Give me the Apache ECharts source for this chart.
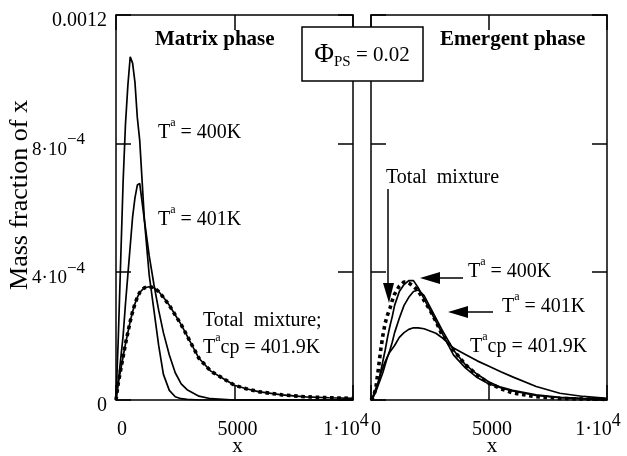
<!DOCTYPE html>
<html>
<head>
<meta charset="utf-8">
<script src="https://cdn.jsdelivr.net/npm/echarts@6/dist/echarts.min.js"></script>
<style>
  html, body { margin: 0; padding: 0; background: #fff; }
  #chart { width: 627px; height: 456px; }
</style>
</head>
<body>
<div id="chart"></div>
<script>
// Chain length x (sampling grid shared by all curves)
const xs = [0, 100, 200, 300, 400, 500, 600, 700, 800, 900, 1000, 1200, 1400, 1600, 1800,
            2000, 2250, 2500, 2750, 3000, 3500, 4000, 4500, 5000, 5500, 6000, 7000, 8000, 9000, 10000];

// Mass fraction of x, in units of 1e-4
// Matrix phase
const matrix400 = [0, 2.0, 4.4, 6.8, 8.6, 9.8, 10.7, 10.5, 9.9, 8.8, 8.1, 5.6, 3.9, 2.8, 1.7,
                   0.8, 0.3, 0.1, 0.04, 0.02, 0, 0, 0, 0, 0, 0, 0, 0, 0, 0];
const matrix401 = [0, 0.6, 1.3, 2.0, 3.0, 3.9, 4.8, 5.7, 6.3, 6.7, 6.75, 5.6, 4.5, 3.6, 2.8,
                   2.1, 1.4, 0.85, 0.5, 0.32, 0.12, 0.04, 0.02, 0, 0, 0, 0, 0, 0, 0];
// Total mixture at the cloud point (identical to the matrix phase there)
const totalMixtureCp = [0, 0.55, 0.95, 1.35, 1.75, 2.1, 2.45, 2.75, 3.0, 3.2, 3.35, 3.5, 3.53, 3.5, 3.38,
                        3.2, 2.95, 2.65, 2.35, 2.0, 1.3, 0.9, 0.68, 0.46, 0.35, 0.26, 0.16, 0.1, 0.07, 0.05];
// Emergent phase
const emergent400 = [0, 0.12, 0.3, 0.5, 0.85, 1.2, 1.55, 1.95, 2.3, 2.6, 2.95, 3.38, 3.6, 3.72, 3.72,
                     3.5, 3.15, 2.8, 2.45, 2.1, 1.4, 1.0, 0.7, 0.5, 0.38, 0.28, 0.14, 0.07, 0.04, 0.02];
const emergent401 = [0, 0.1, 0.25, 0.45, 0.65, 0.85, 1.1, 1.35, 1.55, 1.8, 2.1, 2.55, 2.95, 3.2, 3.38,
                     3.43, 3.25, 2.9, 2.55, 2.2, 1.55, 1.1, 0.8, 0.56, 0.4, 0.3, 0.16, 0.08, 0.04, 0.02];
const emergentCp = [0, 0.15, 0.35, 0.55, 0.8, 1.0, 1.2, 1.35, 1.5, 1.6, 1.7, 1.95, 2.1, 2.2, 2.25,
                    2.25, 2.22, 2.15, 2.08, 1.95, 1.62, 1.42, 1.22, 1.05, 0.88, 0.72, 0.42, 0.21, 0.11, 0.05];
const emergentTotal = [0, 0.1, 0.35, 0.9, 1.5, 2.0, 2.4, 2.65, 2.85, 3.1, 3.3, 3.55, 3.68, 3.65, 3.55,
                       3.4, 3.1, 2.8, 2.45, 2.05, 1.55, 1.1, 0.78, 0.52, 0.35, 0.22, 0.1, 0.05, 0.03, 0.02];

// Axis ranges and tick labels
const xMax = 10000, xStep = 5000;
const yMax = 12, yStep = 4; // in 1e-4 units
const yTickLabels = { 0: '{v|0}', 4: '{w|4·10}{e|−4}', 8: '{w|8·10}{e|−4}', 12: '{v|0.0012}' };

const SERIF = '"Liberation Serif", "Times New Roman", serif';
const black = '#000';

function pairs(arr) { return xs.map((x, i) => [x, arr[i]]); }

function solid(xi, yi, arr) {
  return {
    type: 'line', xAxisIndex: xi, yAxisIndex: yi, data: pairs(arr),
    symbol: 'none', silent: true, z: 3,
    lineStyle: { color: black, width: 1.7 }
  };
}
function dotted(xi, yi, arr) {
  return {
    type: 'line', xAxisIndex: xi, yAxisIndex: yi, data: pairs(arr),
    symbol: 'none', silent: true, z: 4,
    lineStyle: { color: black, width: 3.6, type: [3.6, 3.6], cap: 'butt' }
  };
}

const axisLine = { show: true, onZero: false, lineStyle: { color: black, width: 1.5 } };
const axisTick = { show: true, inside: true, length: 15, lineStyle: { color: black, width: 1.5 } };

const labelRich = {
  v: { fontFamily: SERIF, fontSize: 20, color: black, lineHeight: 28, verticalAlign: 'bottom' },
  w: { fontFamily: SERIF, fontSize: 19, color: black, lineHeight: 28, verticalAlign: 'bottom' },
  e: { fontFamily: SERIF, fontSize: 17, color: black, lineHeight: 17, verticalAlign: 'top', padding: [0, 22, 0, 0] },
  z: { fontFamily: SERIF, fontSize: 20, color: black, lineHeight: 28, verticalAlign: 'bottom', padding: [0, 0, 0, 12] },
  zr: { fontFamily: SERIF, fontSize: 20, color: black, lineHeight: 28, verticalAlign: 'bottom', padding: [0, 0, 0, 10] },
  m: { fontFamily: SERIF, fontSize: 20, color: black, lineHeight: 28, verticalAlign: 'bottom', padding: [0, 0, 0, 6] },
  s: { fontFamily: SERIF, fontSize: 18, color: black, lineHeight: 18, verticalAlign: 'top', padding: [0, 14, 0, 0] },
  sr: { fontFamily: SERIF, fontSize: 18, color: black, lineHeight: 18, verticalAlign: 'top', padding: [0, 18, 0, 0] }
};

function xAxisBottom(grid, right) {
  return {
    type: 'value', gridIndex: grid, position: 'bottom', min: 0, max: xMax, interval: xStep,
    axisLine, axisTick, splitLine: { show: false },
    axisLabel: {
      margin: 12, rich: labelRich,
      formatter: v => v === 0 ? (right ? '{zr|0}' : '{z|0}')
                    : v === xMax ? (right ? '{v|1·10}{sr|4}' : '{v|1·10}{s|4}')
                    : '{m|' + v + '}'
    },
    name: 'x', nameLocation: 'middle', nameGap: 36, nameMoveOverlap: false,
    nameTextStyle: { fontFamily: SERIF, fontSize: 21, color: black, padding: [0, 0, 0, 6] }
  };
}
function xAxisTop(grid) {
  return {
    type: 'value', gridIndex: grid, position: 'top', min: 0, max: xMax, interval: xStep,
    axisLine, axisTick, axisLabel: { show: false }, splitLine: { show: false }
  };
}
function yAxis(grid, pos, labels) {
  return {
    type: 'value', gridIndex: grid, position: pos, min: 0, max: yMax, interval: yStep,
    axisLine, axisTick, splitLine: { show: false },
    axisLabel: labels ? {
      margin: 9, padding: [4, 0, 0, 0], rich: labelRich,
      formatter: v => yTickLabels[v]
    } : { show: false }
  };
}

const annoRich = {
  t: { fontFamily: SERIF, fontSize: 20, color: black, lineHeight: 26, verticalAlign: 'bottom' },
  a: { fontFamily: SERIF, fontSize: 12, color: black, lineHeight: 12, verticalAlign: 'top' }
};
function anno(x, y, text) {
  return {
    type: 'text', x, y, z: 10,
    style: { text, rich: annoRich, fill: black, align: 'left', verticalAlign: 'middle' }
  };
}
function arrowHead(tip, b1, b2) {
  return { type: 'polygon', z: 10, shape: { points: [tip, b1, b2] }, style: { fill: black } };
}
function seg(x1, y1, x2, y2) {
  return { type: 'line', z: 10, shape: { x1, y1, x2, y2 }, style: { stroke: black, lineWidth: 1.5 } };
}

const chart = echarts.init(document.getElementById('chart'), null, { renderer: 'canvas' });
chart.setOption({
  animation: false,
  backgroundColor: '#fff',
  grid: [
    { left: 116, top: 15, width: 237, height: 385, outerBoundsMode: 'none', containLabel: false },
    { left: 371, top: 15, width: 236, height: 385, outerBoundsMode: 'none', containLabel: false }
  ],
  xAxis: [xAxisBottom(0, false), xAxisTop(0), xAxisBottom(1, true), xAxisTop(1)],
  yAxis: [yAxis(0, 'left', true), yAxis(0, 'right', false), yAxis(1, 'left', false), yAxis(1, 'right', false)],
  series: [
    solid(0, 0, matrix400),
    solid(0, 0, matrix401),
    solid(0, 0, totalMixtureCp),
    dotted(0, 0, totalMixtureCp),
    solid(2, 2, emergent400),
    solid(2, 2, emergent401),
    solid(2, 2, emergentCp),
    dotted(2, 2, emergentTotal)
  ],
  graphic: [
    {
      type: 'text', x: 20, y: 195, rotation: Math.PI / 2, z: 10,
      style: { text: 'Mass fraction of x', font: '26px ' + SERIF, fill: black, align: 'center', verticalAlign: 'middle' }
    },
    {
      type: 'text', x: 155, y: 40, z: 10,
      style: { text: 'Matrix phase', font: 'bold 21px ' + SERIF, fill: black, align: 'left', verticalAlign: 'middle' }
    },
    {
      type: 'text', x: 440, y: 40, z: 10,
      style: { text: 'Emergent phase', font: 'bold 21px ' + SERIF, fill: black, align: 'left', verticalAlign: 'middle' }
    },
    {
      type: 'rect', z: 9, shape: { x: 302, y: 27, width: 121, height: 54 },
      style: { fill: '#fff', stroke: black, lineWidth: 1.5 }
    },
    {
      type: 'text', x: 362, y: 55, z: 10,
      style: {
        text: '{p|Φ}{b|PS}{n| = 0.02}', align: 'center', verticalAlign: 'middle',
        rich: {
          p: { fontFamily: SERIF, fontSize: 27, color: black, lineHeight: 30, verticalAlign: 'middle' },
          b: { fontFamily: SERIF, fontSize: 15, color: black, lineHeight: 15, verticalAlign: 'bottom' },
          n: { fontFamily: SERIF, fontSize: 21, color: black, lineHeight: 30, verticalAlign: 'middle' }
        }
      }
    },
    anno(158, 130, '{t|T}{a|a}{t| = 400K}'),
    anno(158, 217, '{t|T}{a|a}{t| = 401K}'),
    anno(203, 318, '{t|Total  mixture;}'),
    anno(203, 345, '{t|T}{a|a}{t|cp = 401.9K}'),
    anno(386, 175, '{t|Total  mixture}'),
    anno(468, 269, '{t|T}{a|a}{t| = 400K}'),
    anno(502, 304, '{t|T}{a|a}{t| = 401K}'),
    anno(470, 344, '{t|T}{a|a}{t|cp = 401.9K}'),
    seg(388, 189, 388, 285),
    arrowHead([389, 303], [383, 283], [394, 283]),
    seg(463, 278, 438, 278),
    arrowHead([420, 278], [440, 272], [440, 284]),
    seg(493, 312, 466, 312),
    arrowHead([448, 312], [468, 306], [468, 318])
  ]
});
</script>
</body>
</html>
